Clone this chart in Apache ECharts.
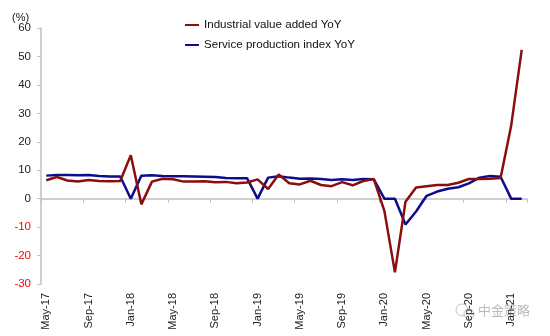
<!DOCTYPE html>
<html>
<head>
<meta charset="utf-8">
<script src="https://cdn.jsdelivr.net/npm/echarts@6/dist/echarts.min.js"></script>
<style>
  html, body { margin: 0; padding: 0; background: #ffffff; }
  #chart { width: 550px; height: 336px; }
</style>
</head>
<body>
<div id="chart"></div>
<script>
// Monthly categories, May-17 through Feb-21
const months = [
  'May-17','Jun-17','Jul-17','Aug-17','Sep-17','Oct-17','Nov-17','Dec-17',
  'Jan-18','Feb-18','Mar-18','Apr-18','May-18','Jun-18','Jul-18','Aug-18','Sep-18','Oct-18','Nov-18','Dec-18',
  'Jan-19','Feb-19','Mar-19','Apr-19','May-19','Jun-19','Jul-19','Aug-19','Sep-19','Oct-19','Nov-19','Dec-19',
  'Jan-20','Feb-20','Mar-20','Apr-20','May-20','Jun-20','Jul-20','Aug-20','Sep-20','Oct-20','Nov-20','Dec-20',
  'Jan-21','Feb-21'
];

// Industrial value added, YoY %
const industrialYoY = [
  6.5, 7.6, 6.4, 6.0, 6.6, 6.2, 6.1, 6.2,
  15.3, -2.0, 6.0, 7.0, 6.8, 6.0, 6.0, 6.1, 5.8, 5.9, 5.4, 5.7,
  6.8, 3.4, 8.5, 5.4, 5.0, 6.3, 4.8, 4.4, 5.8, 4.7, 6.2, 6.9,
  -4.3, -25.9, -1.1, 3.9, 4.4, 4.8, 4.8, 5.6, 6.9, 6.9, 7.0, 7.3,
  25.6, 52.3
];

// Service production index, YoY %
const serviceYoY = [
  8.1, 8.3, 8.3, 8.2, 8.3, 8.0, 7.8, 7.8,
  0, 8.1, 8.2, 8.0, 7.9, 7.9, 7.8, 7.7, 7.6, 7.3, 7.2, 7.2,
  0, 7.4, 7.9, 7.4, 7.0, 7.1, 6.9, 6.6, 6.8, 6.6, 6.9, 6.8,
  0, 0, -9.1, -4.5, 1.0, 2.5, 3.5, 4.0, 5.4, 7.4, 8.0, 7.7,
  0, 0
];

// Value axis range and step
const yMin = -30, yMax = 60, yStep = 10;

const seriesNames = ['Industrial value added YoY', 'Service production index YoY'];

const FONT = 'Liberation Sans, Arial, sans-serif';
const AXIS_GREY = '#c0c0c0';

const chart = echarts.init(document.getElementById('chart'), null, { renderer: 'canvas' });

chart.setOption({
  animation: false,
  backgroundColor: '#ffffff',
  grid: { left: 41, right: 23, top: 28, bottom: 52, containLabel: false },
  legend: {
    orient: 'vertical',
    left: 180,
    top: 13,
    itemWidth: 14,
    itemHeight: 2,
    itemGap: 6,
    icon: 'rect',
    textStyle: { fontFamily: FONT, fontSize: 11.6, color: '#111', lineHeight: 14 },
    data: seriesNames
  },
  xAxis: [
    {
      // zero line with ticks between categories
      type: 'category',
      data: months,
      boundaryGap: true,
      axisLine: { onZero: true, lineStyle: { color: AXIS_GREY, width: 1.5 } },
      axisTick: { show: true, interval: 3, length: 4, lineStyle: { color: AXIS_GREY } },
      axisLabel: { show: false },
      splitLine: { show: false }
    },
    {
      // month labels along the bottom of the plot
      type: 'category',
      data: months,
      position: 'bottom',
      boundaryGap: true,
      axisLine: { show: false, onZero: false },
      axisTick: { show: false },
      axisLabel: {
        interval: 3,
        rotate: 90,
        margin: 9,
        fontFamily: FONT,
        fontSize: 11,
        color: '#222'
      },
      splitLine: { show: false }
    }
  ],
  yAxis: {
    type: 'value',
    min: yMin,
    max: yMax,
    interval: yStep,
    axisLine: { show: true, lineStyle: { color: AXIS_GREY, width: 1.5 } },
    axisTick: { show: true, length: 4, lineStyle: { color: AXIS_GREY } },
    axisLabel: {
      margin: 10,
      fontFamily: FONT,
      fontSize: 11.5,
      color: function (v) { return v < 0 ? '#ff0000' : '#222'; }
    },
    splitLine: { show: false }
  },
  graphic: [
    {
      type: 'text',
      left: 12,
      top: 12,
      style: { text: '(%)', font: '11px ' + FONT, fill: '#222' }
    },
    {
      type: 'circle',
      shape: { cx: 462, cy: 310, r: 6 },
      style: { fill: 'none', stroke: 'rgba(150,150,150,0.55)', lineWidth: 1 }
    },
    {
      type: 'circle',
      shape: { cx: 469, cy: 314, r: 5 },
      style: { fill: 'rgba(255,255,255,0.6)', stroke: 'rgba(150,150,150,0.55)', lineWidth: 1 }
    },
    {
      type: 'text',
      left: 478,
      top: 304,
      style: { text: '中金策略', font: '13px "Noto Sans CJK SC", sans-serif', fill: 'rgba(140,140,140,0.6)' }
    }
  ],
  series: [
    {
      name: seriesNames[0],
      type: 'line',
      xAxisIndex: 0,
      data: industrialYoY,
      symbol: 'none',
      lineStyle: { color: '#8b0d0d', width: 2.5 },
      itemStyle: { color: '#8b0d0d' },
      z: 3
    },
    {
      name: seriesNames[1],
      type: 'line',
      xAxisIndex: 0,
      data: serviceYoY,
      symbol: 'none',
      lineStyle: { color: '#0c0c8c', width: 2.5 },
      itemStyle: { color: '#0c0c8c' },
      z: 2
    }
  ]
});
</script>
</body>
</html>
